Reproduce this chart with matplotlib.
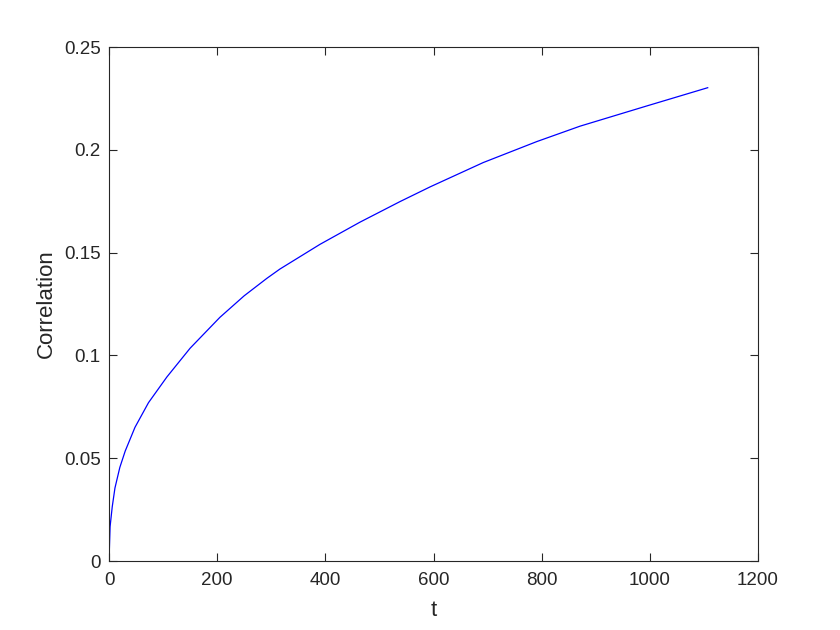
import matplotlib
matplotlib.use("Agg")
import matplotlib.pyplot as plt

t = [0, 2, 6, 11, 20, 30, 48, 73, 107, 150, 205, 250, 292, 316, 390, 464, 538,
     594, 692, 791, 871, 994, 1107]
corr = [0, 0.0167, 0.0264, 0.0355, 0.0455, 0.0535, 0.0650, 0.0770, 0.0895, 0.1035,
        0.1185, 0.1290, 0.1375, 0.1420, 0.1540, 0.1648, 0.1748, 0.1820, 0.1938,
        0.2040, 0.2115, 0.2213, 0.2302]
xticks = [0, 200, 400, 600, 800, 1000, 1200]
yticks = [0, 0.05, 0.1, 0.15, 0.2, 0.25]
yticklabels = ["0", "0.05", "0.1", "0.15", "0.2", "0.25"]

plt.rcParams['font.family'] = ['Liberation Sans', 'DejaVu Sans']
fig = plt.figure(figsize=(8.4, 6.3), dpi=100)
ax = fig.add_axes([109/840, 69/630, 649/840, 514/630])
ax.plot(t, corr, color='#0000ff', lw=0.9)
ax.set_xlim(0, 1200)
ax.set_ylim(0, 0.25)
ax.set_xticks(xticks)
ax.set_xticklabels([str(v) for v in xticks])
ax.set_yticks(yticks)
ax.set_yticklabels(yticklabels)
gray = '#262626'
for s in ax.spines.values():
    s.set_color(gray)
    s.set_linewidth(0.8)
ax.tick_params(direction='in', top=True, right=True, length=6, width=0.8,
               colors=gray, labelsize=13.5)
ax.tick_params(axis='x', pad=8)
ax.tick_params(axis='y', pad=6)
ax.set_xlabel('t', fontsize=16, color=gray, labelpad=8)
ax.set_ylabel('Correlation', fontsize=16, color=gray, labelpad=5)
fig.savefig('out.png', dpi=100)
